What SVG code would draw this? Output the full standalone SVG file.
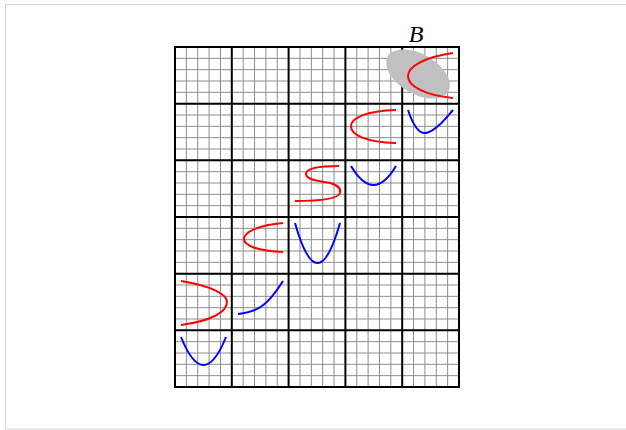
<svg xmlns="http://www.w3.org/2000/svg" width="626" height="430" viewBox="0 0 626 430">
<style>
.minor{stroke:#8c8c8c;stroke-width:1;fill:none}
.major{stroke:#000;stroke-width:2;fill:none}
.red{stroke:#ff0000;stroke-width:2;fill:none}
.blue{stroke:#0000ff;stroke-width:2;fill:none}
.lbl{font-family:"Liberation Serif","DejaVu Serif",serif;font-style:italic;font-size:24px;fill:#000}
</style>
<rect x="0" y="0" width="626" height="430" fill="#fff"/>
<rect x="5.5" y="4.5" width="630" height="424.5" fill="none" stroke="#d6d6d6" stroke-width="1"/>
<g id="grid">
<path class="minor" d="M186.36,47V387M197.72,47V387M209.08,47V387M220.44,47V387M243.16,47V387M254.52,47V387M265.88,47V387M277.24,47V387M299.96,47V387M311.32,47V387M322.68,47V387M334.04,47V387M356.76,47V387M368.12,47V387M379.48,47V387M390.84,47V387M413.56,47V387M424.92,47V387M436.28,47V387M447.64,47V387
M175,58.33H459M175,69.67H459M175,81H459M175,92.33H459M175,115H459M175,126.33H459M175,137.67H459M175,149H459M175,171.67H459M175,183H459M175,194.33H459M175,205.67H459M175,228.33H459M175,239.67H459M175,251H459M175,262.33H459M175,285H459M175,296.33H459M175,307.67H459M175,319H459M175,341.67H459M175,353H459M175,364.33H459M175,375.67H459"/>
<path class="major" d="M231.8,47V387M288.6,47V387M345.4,47V387M402.2,47V387M175,103.67H459M175,160.33H459M175,217H459M175,273.67H459M175,330.33H459"/>
<rect class="major" x="175" y="47" width="284" height="340"/>
</g>
<g id="cell-B">
<ellipse cx="418" cy="74" rx="35" ry="20" transform="rotate(30 418 74)" fill="#c0c0c0"/>
<path class="red" d="M453,53 C424,57 408,67 408,76 C408,86 424,95 453,98"/>
<text class="lbl" x="416" y="42" text-anchor="middle">B</text>
</g>
<g id="curves">
<path class="red" d="M396,110 C366,111 351,118 351,126.5 C351,135 366,142 396,143"/>
<path class="blue" d="M408,110 C414,128 420,134 426,133 C436,131 446,118 453,110"/>
<path class="red" d="M339,166 C320,166 306,168 306,174 C306,180 320,181 330,183 C338,185 341,189 340,193 C338,199 318,201 295,201"/>
<path class="blue" d="M351,166 Q373.5,204 396,166"/>
<path class="red" d="M283,223 C259,225 244,232 244,239 C244,246 259,251 283,252"/>
<path class="blue" d="M295,223 Q317.5,303 340,223"/>
<path class="red" d="M181,281 C211,286 227,294 227,302 C227,312 211,321 181,325"/>
<path class="blue" d="M238,314 C258,312 268,305 283,281"/>
<path class="blue" d="M181,337 Q203.5,393 226,337"/>
</g>
</svg>
